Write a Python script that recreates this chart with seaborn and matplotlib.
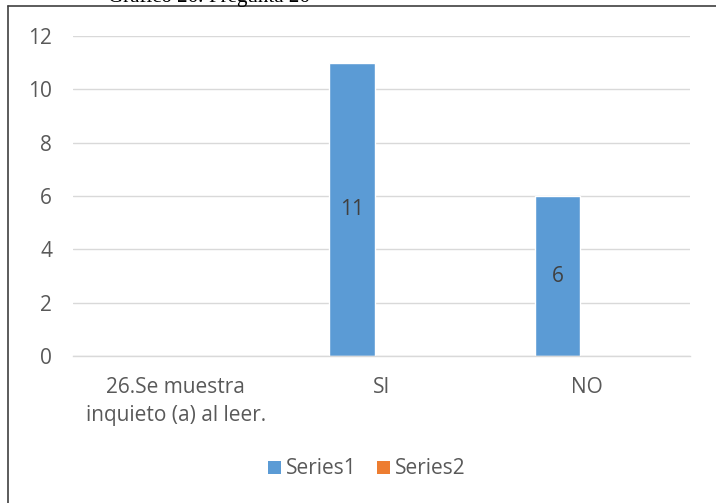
import matplotlib
matplotlib.use("Agg")
import matplotlib.pyplot as plt
import seaborn as sns
import pandas as pd
from matplotlib.lines import Line2D
from matplotlib.patches import Patch

categories = ["26.Se muestra\ninquieto (a) al leer.", "SI", "NO"]
series1 = [0, 11, 6]
series2 = [0, 0, 0]
series_names = ["Series1", "Series2"]
colors = ["#5B9BD5", "#ED7D31"]

df = pd.DataFrame({
    "cat": categories * 2,
    "val": series1 + series2,
    "series": [series_names[0]] * 3 + [series_names[1]] * 3,
})

sns.set_theme(style="white")
plt.rcParams["font.family"] = ["Open Sans", "DejaVu Sans"]

FS = 15

fig = plt.figure(figsize=(7.16, 5.03), dpi=100)
ax = fig.add_axes([73/716, 1-356/503, (690-73)/716, (356-36)/503])

sns.barplot(data=df, x="cat", y="val", hue="series", palette=colors,
            width=0.574, gap=0.237, ax=ax, legend=False, saturation=1)

ax.set_xlim(-0.5, 2.5)
ax.set_ylim(0, 12)
ax.set_yticks(range(0, 13, 2))
ax.yaxis.grid(True, color="#D9D9D9", linewidth=1)
ax.set_axisbelow(True)
for s in ["top", "right", "left"]:
    ax.spines[s].set_visible(False)
ax.spines["bottom"].set_color("#D9D9D9")
ax.spines["bottom"].set_linewidth(1)
ax.set_xlabel("")
ax.set_ylabel("")
ax.tick_params(axis="both", length=0, labelsize=FS, colors="#595959")
ax.tick_params(axis="y", pad=15)
ax.tick_params(axis="x", pad=15)
for t in ax.get_xticklabels():
    t.set_linespacing(1.45)

# data labels for series1 (non-zero)
cont = ax.containers[0]
labels = [str(v) if v else "" for v in series1]
ax.bar_label(cont, labels=labels, label_type="center", fontsize=FS, color="#404040")

handles = [Patch(facecolor=c, edgecolor="none") for c in colors]
fig.legend(handles, series_names, loc="center", bbox_to_anchor=(367/716, 1-469/503),
           ncol=2, frameon=False, fontsize=FS, handlelength=0.6, handleheight=0.6,
           handletextpad=0.25, columnspacing=1.0, labelcolor="#595959")

# frame border (left and top visible)
fig.add_artist(Line2D([8/716, 8/716], [0, 1-6/503], color="#404040", linewidth=1.2))
fig.add_artist(Line2D([8/716, 1], [1-6/503, 1-6/503], color="#404040", linewidth=1.2))

fig.text(209/716, 1-2/503, "Gráfico 26: Pregunta 26", family="Liberation Serif",
         fontsize=15, ha="center", va="baseline", color="black")

fig.savefig("out.png", dpi=100)
